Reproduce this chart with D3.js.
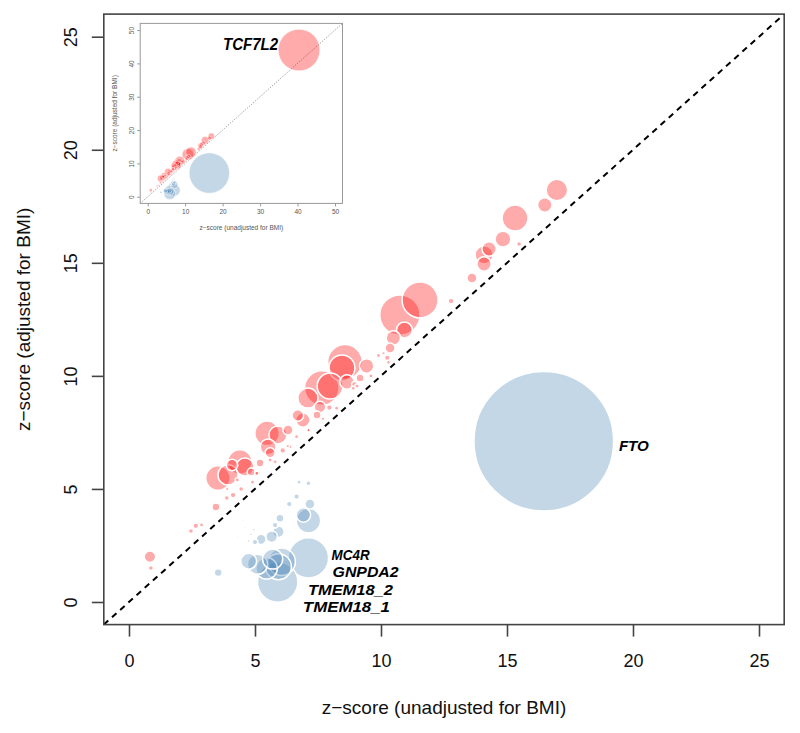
<!DOCTYPE html>
<html>
<head>
<meta charset="utf-8">
<script src="https://cdn.jsdelivr.net/npm/d3@7"></script>
<style>
  html, body { margin: 0; padding: 0; background: #fff; }
  svg { display: block; }
</style>
</head>
<body>
<svg id="chart" width="800" height="733"></svg>
<script>
// ---------------- DATA ----------------
// BMI-increasing loci (red): unadjusted z, adjusted z, bubble weight
const redX = [16.98,16.5,15.32,15.48,14.84,14.29,14.09,14.09,13.61,12.78,
  11.55,10.75,10.93,10.49,10.36,10.25,10.3,9.43,8.57,8.45,
  8.65,9.17,8.95,9.05,7.98,7.65,7.1,7.58,7.46,7.95,
  6.9,6.7,7.15,5.48,5.91,6.31,5.52,5.6,6.1,4.4,
  4.6,5.2,4.09,3.93,3.53,4.85,5.1,4.45,4.13,3.45,
  3.88,2.65,2.46,2.88,0.83,0.87,
  5.07,5.6,6.39,6.65,7.12,8.24,8.9,9.6,9.9,10.1,4.9,5.8,6.3,7.7,3.9,4.3];
const redY = [18.22,17.56,16.98,15.83,16.05,15.61,15.35,14.95,14.33,13.31,
  13.36,12.69,12.03,11.68,11.23,10.8,10.6,10.44,10.62,10.35,
  9.73,9.91,9.62,9.55,9.55,9.46,9.02,8.62,8.27,8.6,
  8.05,8.25,7.6,7.46,7.39,7.61,6.86,6.6,6.7,6.19,
  5.97,6.15,6.06,5.62,5.48,5.75,5.7,5.0,4.73,4.2,
  4.6,3.37,3.14,3.41,2.0,1.5,
  5.69,6.28,6.87,7.31,7.6,8.57,9.45,10.0,10.9,11.0,5.3,6.2,6.9,8.1,5.0,5.4];
const redW = [15,10,18,3.5,11,10,12.5,10,7,4,
  25,28,11,10,7,4,3,10,24,18,
  10,5.5,4,3,18,24,14,8,5.5,4,
  10,8,3,17,12.5,7,11,7,4,17,
  12.5,5.5,8,14,17,5.5,4,3.5,4,5.5,
  3.5,4,3.5,3,8,3.5,
  3,3,3,3,2.5,3,3,3,3,2.5,3,3,2.5,2.5,2.5,3];

// BMI-decreasing / other loci (blue)
const blueX = [16.46,7.12,5.9,6.06,5.93,5.46,5.1,4.75,5.7,7.12,
  6.92,7.18,6.65,6.36,7.12,6.75,5.99,5.93,5.66,5.24,
  5.0,5.8,4.95,4.85,4.75,4.6,4.5,3.54,2.5,4.3,4.0];
const blueY = [7.11,1.95,0.88,1.78,1.56,1.49,1.67,1.8,1.9,3.6,
  3.85,4.33,4.66,4.33,5.25,5.3,3.7,3.11,2.89,2.77,
  2.65,3.4,3.2,3.0,2.7,3.3,3.6,1.3,1.4,2.9,2.5];
const blueW = [97,28,28,19,18,15,14,11,14,17,
  10,7,4,4,3.5,3,5.5,8,8,7,
  4,4,2,2,2,1.5,1.5,5.5,1.4,1.5,1.4];

// TCF7L2 (only visible in inset)
const tcfX = [40.4], tcfY = [44.0], tcfW = [100];

// annotations (text, data x of start, data y of centre)
const labelText = ["FTO","MC4R","GNPDA2","TMEM18_2","TMEM18_1"];
const labelX = [19.44, 8.04, 8.08, 7.1, 6.9];
const labelY = [6.94, 2.10, 1.32, 0.545, -0.23];
const labelLen = [30, 38, 66, 85, 87];
const labelSize = [15.5, 14.5, 14.5, 14.5, 14.5];

const mainTicks = [0,5,10,15,20,25];
const insetTicks = [0,10,20,30,40,50];

// ---------------- BUILD ----------------
const pts = [];
redX.forEach((v,i)=>pts.push({x:v,y:redY[i],w:redW[i],g:"red"}));
blueX.forEach((v,i)=>pts.push({x:v,y:blueY[i],w:blueW[i],g:"blue"}));
tcfX.forEach((v,i)=>pts.push({x:v,y:tcfY[i],w:tcfW[i],g:"red"}));
pts.sort((a,b)=>b.w-a.w);

const fill = {red:"rgba(255,0,0,0.33)", blue:"rgba(70,130,180,0.32)"};
const labFont = "Liberation Sans, Arial, sans-serif";

const svg = d3.select("#chart");

// main scales
const x = d3.scaleLinear().domain([-1,26]).range([103.8,784.2]);
const y = d3.scaleLinear().domain([-1,26]).range([624.6,14.1]);
const r = d3.scaleLinear().domain([0,100]).range([0,72]);

svg.append("clipPath").attr("id","clipMain")
  .append("rect").attr("x",103.8).attr("y",14.1).attr("width",680.4).attr("height",610.5);

const gMain = svg.append("g").attr("clip-path","url(#clipMain)");

gMain.append("line")
  .attr("x1",x(-1)).attr("y1",y(-1)).attr("x2",x(26)).attr("y2",y(26))
  .attr("stroke","#000").attr("stroke-width",2).attr("stroke-dasharray","6,5");

gMain.selectAll("circle").data(pts).join("circle")
  .attr("cx",d=>x(d.x)).attr("cy",d=>y(d.y)).attr("r",d=>r(d.w))
  .attr("fill",d=>fill[d.g]).attr("stroke","#fff").attr("stroke-width",1.5);

// box
svg.append("rect").attr("x",103.8).attr("y",14.1).attr("width",680.4).attr("height",610.5)
  .attr("fill","none").attr("stroke","#444").attr("stroke-width",1.6);

// axes
const ax = svg.append("g").attr("transform","translate(0,624.6)")
  .call(d3.axisBottom(x).tickValues(mainTicks).tickSize(12).tickPadding(18));
ax.select(".domain").remove();
ax.selectAll("line").attr("stroke","#444").attr("stroke-width",1.6);
ax.selectAll("text").attr("font-family",labFont).attr("font-size",18).attr("fill","#111");

const ay = svg.append("g").attr("transform","translate(103.8,0)")
  .call(d3.axisLeft(y).tickValues(mainTicks).tickSize(12));
ay.select(".domain").remove();
ay.selectAll("line").attr("stroke","#444").attr("stroke-width",1.6);
ay.selectAll("text").attr("x",null).attr("dy",null)
  .attr("transform","translate(-27,0) rotate(-90)")
  .attr("text-anchor","middle")
  .attr("font-family",labFont).attr("font-size",18).attr("fill","#111");

svg.append("text").attr("x",(103.8+784.2)/2).attr("y",714)
  .attr("text-anchor","middle").attr("font-family",labFont)
  .attr("font-size",19).attr("fill","#111").text("z\u2212score (unadjusted for BMI)");
svg.append("text").attr("transform",`translate(30,${(14.1+624.6)/2}) rotate(-90)`)
  .attr("text-anchor","middle").attr("font-family",labFont)
  .attr("font-size",19).attr("fill","#111").text("z\u2212score (adjusted for BMI)");

// gene labels
svg.append("g").selectAll("text").data(labelText).join("text")
  .attr("x",(d,i)=>x(labelX[i])).attr("y",(d,i)=>y(labelY[i]))
  .attr("dy","0.36em")
  .attr("font-family",labFont).attr("font-weight",700).attr("font-style","italic")
  .attr("font-size",(d,i)=>labelSize[i]).attr("fill","#000")
  .attr("textLength",(d,i)=>labelLen[i]).attr("lengthAdjust","spacingAndGlyphs")
  .text(d=>d);

// ---------------- INSET ----------------
const ix = d3.scaleLinear().domain([-2,52]).range([140.2,342.5]);
const iy = d3.scaleLinear().domain([-2,52]).range([203.4,23.4]);
const ir = d3.scaleLinear().domain([0,100]).range([0,20.8]);

const gIn = svg.append("g");
gIn.append("rect").attr("x",140.2).attr("y",23.4).attr("width",202.3).attr("height",180)
  .attr("fill","#fff").attr("stroke","#999").attr("stroke-width",1);
svg.append("clipPath").attr("id","clipIn")
  .append("rect").attr("x",140.2).attr("y",23.4).attr("width",202.3).attr("height",180);
const gInP = gIn.append("g").attr("clip-path","url(#clipIn)");
gInP.append("line")
  .attr("x1",ix(-2)).attr("y1",iy(-2)).attr("x2",ix(52)).attr("y2",iy(52))
  .attr("stroke","#777").attr("stroke-width",0.8).attr("stroke-dasharray","1.2,1.6");
gInP.selectAll("circle").data(pts).join("circle")
  .attr("cx",d=>ix(d.x)).attr("cy",d=>iy(d.y)).attr("r",d=>ir(d.w))
  .attr("fill",d=>fill[d.g]).attr("stroke","#fff").attr("stroke-width",0.5);

const iax = gIn.append("g").attr("transform","translate(0,203.4)")
  .call(d3.axisBottom(ix).tickValues(insetTicks).tickSize(3).tickPadding(3));
iax.select(".domain").remove();
iax.selectAll("line").attr("stroke","#999");
iax.selectAll("text").attr("font-family",labFont).attr("font-size",6.5).attr("fill","#555");

const iay = gIn.append("g").attr("transform","translate(140.2,0)")
  .call(d3.axisLeft(iy).tickValues(insetTicks).tickSize(3));
iay.select(".domain").remove();
iay.selectAll("line").attr("stroke","#999");
iay.selectAll("text").attr("x",null).attr("dy",null)
  .attr("transform","translate(-6.5,0) rotate(-90)").attr("text-anchor","middle")
  .attr("font-family",labFont).attr("font-size",6.5).attr("fill","#555");

gIn.append("text").attr("x",(140.2+342.5)/2).attr("y",230)
  .attr("text-anchor","middle").attr("font-family",labFont)
  .attr("font-size",6.5).attr("fill","#555").text("z\u2212score (unadjusted for BMI)");
gIn.append("text").attr("transform",`translate(117,${(23.4+203.4)/2}) rotate(-90)`)
  .attr("text-anchor","middle").attr("font-family",labFont)
  .attr("font-size",6.5).attr("fill","#555").text("z\u2212score (adjusted for BMI)");

gIn.append("text").attr("x",ix(20.1)).attr("y",iy(45.8)).attr("dy","0.36em")
  .attr("font-family",labFont).attr("font-weight",700).attr("font-style","italic")
  .attr("font-size",16).attr("fill","#000")
  .attr("textLength",55).attr("lengthAdjust","spacingAndGlyphs").text("TCF7L2");
</script>
</body>
</html>
